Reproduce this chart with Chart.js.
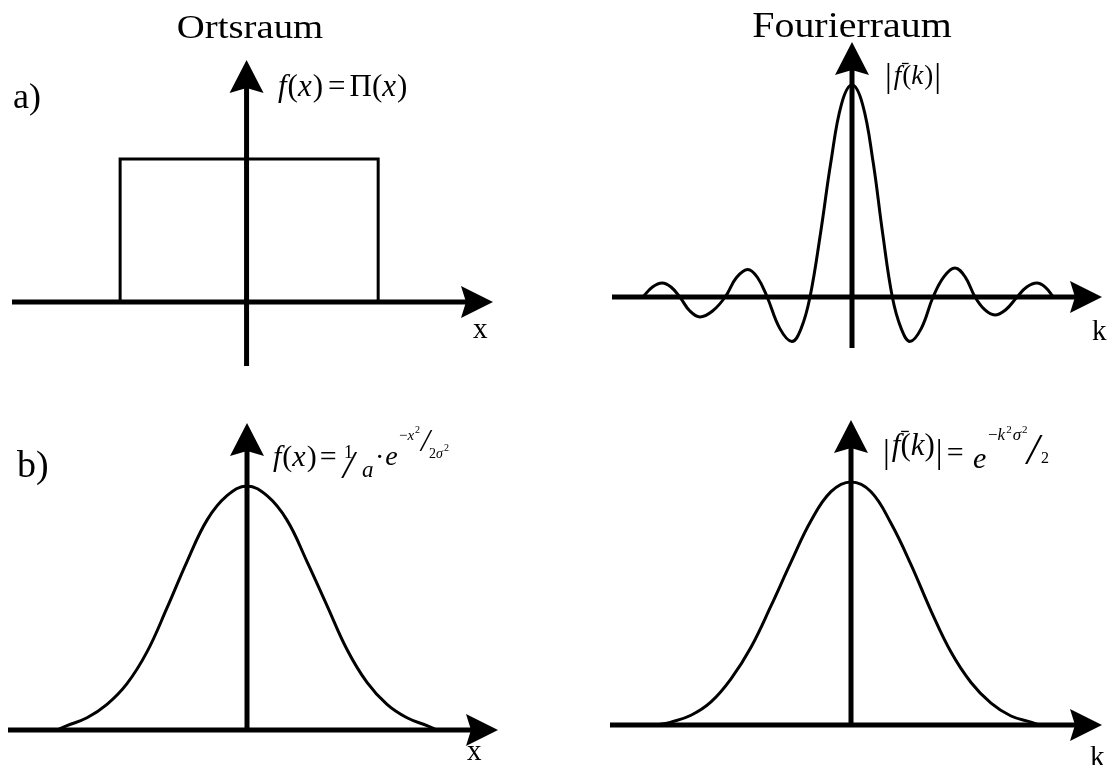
<!DOCTYPE html>
<html>
<head>
<meta charset="utf-8">
<title>Ortsraum / Fourierraum</title>
<script src="https://cdn.jsdelivr.net/npm/chart.js@4.4.0/dist/chart.umd.min.js"></script>
<style>
  html, body { margin: 0; padding: 0; background: #fff; }
  #wrap { position: relative; width: 1107px; height: 765px; overflow: hidden; }
  canvas { position: absolute; }
</style>
</head>
<body>
<div id="wrap">
  <canvas id="boxChart" width="553" height="383" style="left:0;top:0"></canvas>
  <canvas id="sincChart" width="554" height="383" style="left:553px;top:0"></canvas>
  <canvas id="gaussXChart" width="553" height="382" style="left:0;top:383px"></canvas>
  <canvas id="gaussKChart" width="554" height="382" style="left:553px;top:383px"></canvas>
</div>
<script>
// a) Rechteckfunktion
const boxX = [-0.49, -0.49, 0.51, 0.51];
const boxY = [0, 1, 1, 0];

// a) Spektrum (sinc)
const sincK = [-4.98, -4.75, -4.52, -4.31, -4.1, -3.86, -3.62, -3.32, -3.02, -2.75, -2.48, -2.25, -2.02,
  -1.72, -1.43, -1.21, -1.0, -0.75, -0.5, -0.25, 0, 0.25, 0.5, 0.73, 0.96, 1.17, 1.38, 1.65, 1.93,
  2.19, 2.45, 2.69, 2.93, 3.16, 3.4, 3.66, 3.93, 4.16, 4.4, 4.6, 4.79];
const sincVal = [0, 0.047, 0.066, 0.047, 0, -0.066, -0.094, -0.066, 0, 0.092, 0.13, 0.092, 0,
  -0.148, -0.21, -0.148, 0, 0.3, 0.64, 0.91, 1, 0.91, 0.64, 0.3, 0, -0.148, -0.21, -0.148, 0,
  0.096, 0.137, 0.096, 0, -0.06, -0.085, -0.06, 0, 0.047, 0.066, 0.047, 0];

// b) Gauss im Ortsraum
const gaussXPos = [-9.5, -9, -8, -7, -6, -5, -4, -3, -2, -1, 0, 1, 2, 3, 4, 5, 6, 7, 8, 9, 9.5];
const gaussXVal = [0, 0.018, 0.05, 0.105, 0.19, 0.32, 0.50, 0.69, 0.86, 0.96, 1, 0.96, 0.86, 0.69, 0.51, 0.33, 0.195, 0.105, 0.05, 0.018, 0];

// b) Gauss im Fourierraum
const gaussKPos = [-9.7, -9, -8, -7, -6, -5, -4, -3, -2, -1, 0, 1, 2, 3, 4, 5, 6, 7, 8, 9, 9.4];
const gaussKVal = [0, 0.012, 0.04, 0.095, 0.19, 0.32, 0.49, 0.67, 0.84, 0.96, 1, 0.96, 0.83, 0.66, 0.47, 0.30, 0.175, 0.09, 0.037, 0.012, 0];

const SERIF = "'Liberation Serif', 'Times New Roman', serif";

function toPoints(xs, ys) {
  return xs.map((v, i) => ({ x: v, y: ys[i] }));
}

// axes with filled arrow heads, crossing at (0,0)
const arrowAxes = {
  id: 'arrowAxes',
  afterDatasetsDraw(chart) {
    const { ctx, chartArea: { left, right, top, bottom }, scales: { x, y } } = chart;
    const x0 = x.getPixelForValue(0);
    const y0 = y.getPixelForValue(0);
    ctx.save();
    ctx.strokeStyle = '#000';
    ctx.fillStyle = '#000';
    ctx.lineWidth = 5;
    ctx.beginPath();
    ctx.moveTo(left, y0);
    ctx.lineTo(right - 20, y0);
    ctx.moveTo(x0, bottom);
    ctx.lineTo(x0, top + 20);
    ctx.stroke();

    ctx.beginPath();
    ctx.moveTo(right, y0);
    ctx.lineTo(right - 32, y0 - 16);
    ctx.lineTo(right - 27, y0);
    ctx.lineTo(right - 32, y0 + 16);
    ctx.closePath();
    ctx.fill();

    ctx.beginPath();
    ctx.moveTo(x0, top);
    ctx.lineTo(x0 - 17, top + 33);
    ctx.lineTo(x0, top + 28);
    ctx.lineTo(x0 + 17, top + 33);
    ctx.closePath();
    ctx.fill();
    ctx.restore();
  }
};

// part: [text, size, italic, dy, gapBefore, macron]
function drawParts(ctx, x, y, parts, sx) {
  sx = sx || 1;
  let cx = x;
  parts.forEach(p => {
    const [t, s, it, dy = 0, gap = 0, bar = false] = p;
    cx += gap;
    ctx.font = (it ? 'italic ' : '') + s + 'px ' + SERIF;
    const w = ctx.measureText(t).width * sx;
    ctx.save();
    ctx.translate(cx, y + dy);
    ctx.scale(sx, 1);
    ctx.fillText(t, 0, 0);
    ctx.restore();
    if (bar) {
      ctx.save();
      ctx.lineWidth = 1.3;
      ctx.beginPath();
      ctx.moveTo(cx + 0.3 * s, y + dy - 0.76 * s);
      ctx.lineTo(cx + 0.55 * s, y + dy - 0.76 * s);
      ctx.stroke();
      ctx.restore();
    }
    cx += w;
  });
  return cx;
}

function textLayer(groups) {
  return {
    id: 'textLayer',
    afterDraw(chart) {
      const ctx = chart.ctx;
      ctx.save();
      ctx.fillStyle = '#000';
      ctx.strokeStyle = '#000';
      ctx.textBaseline = 'alphabetic';
      groups.forEach(g => {
        let x = g.x;
        if (g.center) {
          let w = 0;
          g.parts.forEach(p => {
            ctx.font = (p[2] ? 'italic ' : '') + p[1] + 'px ' + SERIF;
            w += ctx.measureText(p[0]).width * (g.sx || 1);
          });
          x = g.x - w / 2;
        }
        drawParts(ctx, x, g.y, g.parts, g.sx);
      });
      ctx.restore();
    }
  };
}

function makeConfig(points, xr, yr, pad, tension, texts) {
  return {
    type: 'line',
    data: {
      datasets: [{
        data: points,
        borderColor: '#000',
        borderWidth: 3,
        pointRadius: 0,
        fill: false,
        tension: tension
      }]
    },
    options: {
      responsive: false,
      animation: false,
      devicePixelRatio: 1,
      events: [],
      layout: { padding: pad },
      plugins: { legend: { display: false }, tooltip: { enabled: false } },
      scales: {
        x: { type: 'linear', min: xr[0], max: xr[1], display: false },
        y: { type: 'linear', min: yr[0], max: yr[1], display: false }
      }
    },
    plugins: [arrowAxes, textLayer(texts)]
  };
}

const boxTexts = [
  { x: 250, y: 38, center: true, sx: 1.14, parts: [['Ortsraum', 34, false]] },
  { x: 13, y: 108, parts: [['a)', 36, false]] },
  { x: 473, y: 338, parts: [['x', 29, false]] },
  { x: 278, y: 96, parts: [['f', 31, true], ['(', 31, false, 0, 1], ['x', 31, true], [')', 31, false, 0, 1],
    ['=', 31, false, 0, 5], ['\u03A0', 31, false, 0, 4], ['(', 31, false], ['x', 31, true], [')', 31, false, 0, 1]] }
];

const sincTexts = [
  { x: 299, y: 37, center: true, sx: 1.14, parts: [['Fourierraum', 35, false]] },
  { x: 539, y: 340, parts: [['k', 29, false]] },
  { x: 332, y: 84, parts: [['|', 34, false, 3], ['f', 27, true, 0, 2, true], ['(', 27, false, 0, 1], ['k', 27, true],
    [')', 27, false, 0, 1], ['|', 34, false, 3, 1]] }
];

const gaussXTexts = [
  { x: 17, y: 94, parts: [['b)', 38, false]] },
  { x: 467, y: 377, parts: [['x', 29, false]] },
  { x: 273, y: 83, parts: [['f', 30, true], ['(', 30, false, 0, 1], ['x', 30, true], [')', 30, false, 0, 1], ['=', 30, false, 0, 3]] },
  { x: 344, y: 75, parts: [['1', 18, false]] },
  { x: 343, y: 95, parts: [['/', 40, true]] },
  { x: 362, y: 94, parts: [['a', 23, true]] },
  { x: 375, y: 83, parts: [['\u00B7', 28, false], ['e', 28, true, -1, 1]] },
  { x: 399, y: 57, parts: [['\u2212', 15, false], ['x', 15, true], ['2', 10, false, -7, 1]] },
  { x: 421, y: 68, parts: [['/', 32, true]] },
  { x: 429, y: 75, parts: [['2', 14, false], ['\u03C3', 14, true], ['2', 10, false, -7, 1]] }
];

const gaussKTexts = [
  { x: 537, y: 383, parts: [['k', 29, false]] },
  { x: 330, y: 72, parts: [['|', 34, false, 8], ['f', 31, true, 0, 2, true], ['(', 31, false], ['k', 31, true],
    [')', 31, false], ['|', 34, false, 8, 1], ['=', 30, false, 7, 4]] },
  { x: 420, y: 85, parts: [['e', 30, true]] },
  { x: 435, y: 57, parts: [['\u2212', 17, false], ['k', 17, true], ['2', 11, false, -7, 1], ['\u03C3', 17, true, 0, 1], ['2', 11, false, -7, 1]] },
  { x: 474, y: 81, parts: [['/', 44, true]] },
  { x: 488, y: 80, parts: [['2', 16, false]] }
];

const boxChart = new Chart(
  document.getElementById('boxChart'),
  makeConfig(toPoints(boxX, boxY), [-0.909, 0.955], [-0.448, 1.692],
    { left: 12, right: 60, top: 60, bottom: 17 }, 0, boxTexts)
);

const sincChart = new Chart(
  document.getElementById('sincChart'),
  makeConfig(toPoints(sincK, sincVal), [-5.714, 5.952], [-0.2406, 1.203],
    { left: 59, right: 5, top: 42, bottom: 35 }, 0.4, sincTexts)
);

const gaussXChart = new Chart(
  document.getElementById('gaussXChart'),
  makeConfig(toPoints(gaussXPos, gaussXVal), [-11.95, 12.55], [0, 1.258],
    { left: 8, right: 55, top: 40, bottom: 35 }, 0.4, gaussXTexts)
);

const gaussKChart = new Chart(
  document.getElementById('gaussKChart'),
  makeConfig(toPoints(gaussKPos, gaussKVal), [-12.05, 12.55], [0, 1.255],
    { left: 57, right: 5, top: 37, bottom: 40 }, 0.4, gaussKTexts)
);
</script>
</body>
</html>
